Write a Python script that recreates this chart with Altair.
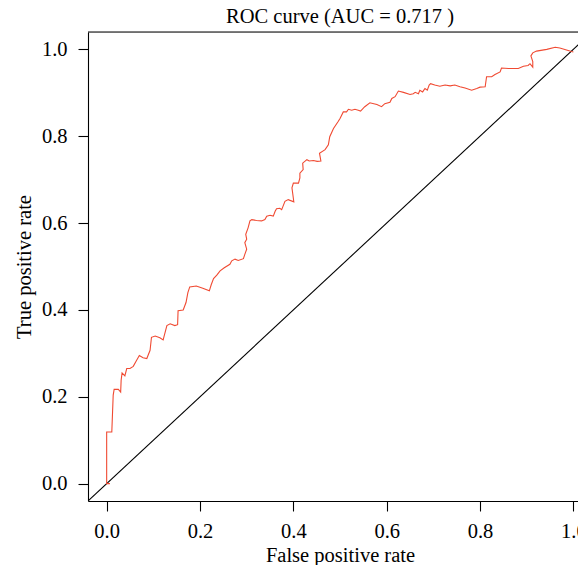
import altair as alt
import pandas as pd

fpr = [0.007, 0.000, 0.000, 0.011, 0.014, 0.016, 0.025, 0.030, 0.031, 0.033, 0.039, 0.043,
       0.050, 0.057, 0.063, 0.070, 0.078, 0.086, 0.093, 0.096, 0.104, 0.114, 0.121, 0.129,
       0.136, 0.146, 0.152, 0.153, 0.164, 0.170, 0.174, 0.178, 0.192, 0.206, 0.220, 0.224,
       0.229, 0.236, 0.243, 0.252, 0.264, 0.268, 0.275, 0.282, 0.293, 0.296, 0.300, 0.296,
       0.300, 0.298, 0.303, 0.307, 0.311, 0.321, 0.332, 0.339, 0.343, 0.350, 0.357, 0.361,
       0.364, 0.371, 0.375, 0.378, 0.382, 0.389, 0.401, 0.397, 0.400, 0.411, 0.414, 0.414,
       0.421, 0.420, 0.429, 0.434, 0.443, 0.451, 0.459, 0.456, 0.468, 0.475, 0.478, 0.486,
       0.496, 0.500, 0.507, 0.514, 0.518, 0.525, 0.532, 0.539, 0.544, 0.553, 0.564, 0.579,
       0.589, 0.596, 0.607, 0.611, 0.618, 0.625, 0.636, 0.650, 0.657, 0.661, 0.668, 0.671,
       0.677, 0.682, 0.687, 0.691, 0.694, 0.703, 0.714, 0.725, 0.736, 0.746, 0.757, 0.768,
       0.782, 0.793, 0.800, 0.811, 0.814, 0.825, 0.832, 0.843, 0.846, 0.861, 0.882, 0.893,
       0.903, 0.907, 0.913, 0.913, 0.909, 0.913, 0.921, 0.943, 0.961, 0.971, 0.996, 1.000]
tpr = [0.000, 0.000, 0.119, 0.119, 0.204, 0.217, 0.217, 0.211, 0.238, 0.255, 0.248, 0.265,
       0.265, 0.270, 0.282, 0.295, 0.290, 0.288, 0.307, 0.337, 0.340, 0.336, 0.331, 0.364,
       0.368, 0.364, 0.366, 0.398, 0.400, 0.417, 0.440, 0.453, 0.455, 0.450, 0.444, 0.458,
       0.472, 0.480, 0.490, 0.497, 0.505, 0.513, 0.517, 0.514, 0.518, 0.528, 0.540, 0.555,
       0.563, 0.574, 0.589, 0.605, 0.608, 0.606, 0.605, 0.608, 0.616, 0.618, 0.616, 0.627,
       0.633, 0.634, 0.631, 0.639, 0.650, 0.654, 0.649, 0.681, 0.692, 0.692, 0.704, 0.715,
       0.723, 0.738, 0.746, 0.743, 0.744, 0.742, 0.743, 0.761, 0.769, 0.780, 0.799, 0.818,
       0.834, 0.841, 0.856, 0.856, 0.862, 0.860, 0.862, 0.860, 0.858, 0.868, 0.877, 0.873,
       0.868, 0.875, 0.878, 0.887, 0.891, 0.904, 0.901, 0.896, 0.898, 0.901, 0.898, 0.906,
       0.902, 0.910, 0.906, 0.918, 0.921, 0.918, 0.915, 0.918, 0.916, 0.918, 0.914, 0.911,
       0.906, 0.910, 0.913, 0.914, 0.937, 0.937, 0.942, 0.948, 0.957, 0.956, 0.956, 0.961,
       0.963, 0.967, 0.959, 0.972, 0.985, 0.992, 0.996, 1.000, 1.005, 1.003, 0.995, 0.994]

diag = [-0.04, 1.04]
ticks = [0.0, 0.2, 0.4, 0.6, 0.8, 1.0]
title_text = "ROC curve (AUC = 0.717 )"

roc = pd.DataFrame({"fpr": fpr, "tpr": tpr, "i": list(range(len(fpr)))})
dg = pd.DataFrame({"fpr": diag, "tpr": diag})

FONT = "Liberation Serif, Times New Roman, DejaVu Serif, serif"
FS = 20.5
W, H = 490, 469

xs = alt.Scale(domain=[-0.04, 1.0099], nice=False, zero=False)
ys = alt.Scale(domain=[-0.04, 1.04], nice=False, zero=False)

xaxis = alt.Axis(values=ticks, format=".1f", grid=False, domain=True, domainColor="black",
                 domainWidth=1.1, tickSize=10, tickWidth=1.1,
                 tickColor="black", labelBaseline="alphabetic", labelPadding=26,
                 labelFont=FONT, labelFontSize=FS, labelColor="black",
                 title="False positive rate", titleFont=FONT, titleFontSize=FS,
                 titleFontWeight="normal", titleColor="black", titleX=252, titleY=60,
                 titleBaseline="alphabetic", titleAlign="center", labelFlush=False)
yaxis = alt.Axis(values=ticks, format=".1f", grid=False, domain=True, domainColor="black",
                 domainWidth=1.1, tickSize=10, tickWidth=1.1,
                 tickColor="black", labelAngle=0, labelAlign="right", labelBaseline="middle",
                 labelPadding=11, labelFont=FONT, labelFontSize=FS, labelColor="black",
                 title="True positive rate", titleFont=FONT, titleFontSize=FS,
                 titleFontWeight="normal", titleColor="black", titleX=-58, titleY=234.5,
                 titleAngle=270, titleBaseline="alphabetic", titleAlign="center",
                 labelFlush=False)

line = alt.Chart(roc).mark_line(color="#F04A32", strokeWidth=1.1, clip=True).encode(
    x=alt.X("fpr:Q", scale=xs, axis=xaxis),
    y=alt.Y("tpr:Q", scale=ys, axis=yaxis),
    order="i:Q",
)
ref = alt.Chart(dg).mark_line(color="black", strokeWidth=1.1, clip=True).encode(
    x=alt.X("fpr:Q", scale=xs),
    y=alt.Y("tpr:Q", scale=ys),
)
top_edge = alt.Chart(pd.DataFrame({"t": [title_text]})).mark_rule(
    color="black", strokeWidth=1.1).encode(
    x=alt.value(0), x2=alt.value(W), y=alt.value(0))
title = alt.Chart(pd.DataFrame({"t": [title_text]})).mark_text(
    font=FONT, fontSize=FS, color="black", align="center", baseline="alphabetic").encode(
    x=alt.value(252), y=alt.value(-9), text="t:N")

chart = alt.layer(ref, line, top_edge, title).properties(
    width=W, height=H,
    autosize=alt.AutoSizeParams(type="none"),
    padding={"left": 80, "top": 24, "right": 0, "bottom": 64},
).configure_view(stroke=None).configure(background="white")

chart.save("out.html", embed_options={"renderer": "svg", "actions": False})
